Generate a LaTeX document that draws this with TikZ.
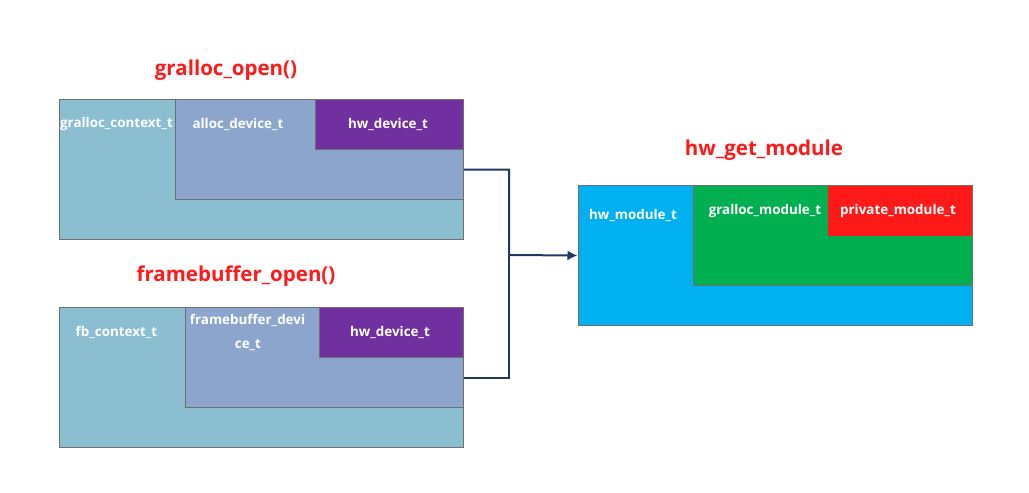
\documentclass[tikz,border=0pt]{standalone}
\usepackage{fontspec}
\setmainfont{Open Sans}
\usetikzlibrary{arrows.meta}
\definecolor{ctxc}{HTML}{8ABED0}
\definecolor{devc}{HTML}{8BA5CC}
\definecolor{hwc}{HTML}{7030A0}
\definecolor{cyanc}{HTML}{00B0F0}
\definecolor{greenc}{HTML}{00B050}
\definecolor{redc}{HTML}{FF1A1A}
\definecolor{bordc}{HTML}{6F6F6F}
\definecolor{connc}{HTML}{1F3864}
\tikzset{
  box/.style={draw=bordc, line width=1pt, rectangle, anchor=north west, inner sep=0pt},
  lbl/.style={text=white, font=\bfseries\fontsize{13.4}{15}\selectfont, inner sep=0pt},
  ttl/.style={text=redc, font=\bfseries\fontsize{20.5}{24}\selectfont, inner sep=0pt},
  conn/.style={draw=connc, line width=2pt},
}
\begin{document}
\begin{tikzpicture}[x=1pt,y=-1pt]
\useasboundingbox (0,0) rectangle (1029,493);
% top group
\node[box, fill=ctxc, minimum width=404pt, minimum height=140pt] (gc) at (59,99) {};
\node[box, fill=devc, minimum width=288pt, minimum height=100pt] (ad) at (175,99) {};
\node[box, fill=hwc, minimum width=148pt, minimum height=50pt] (hw1) at (315,99) {};
\node[lbl] (gcl) at (116.5,124) {gralloc\_context\_t};
\node[lbl] (adl) at (238,124) {alloc\_device\_t};
\node[lbl] (hw1l) at (388,124) {hw\_device\_t};
\node[ttl] (t1) at (226,70) {gralloc\_open()};
% bottom group
\node[box, fill=ctxc, minimum width=404pt, minimum height=140pt] (fc) at (59,307) {};
\node[box, fill=devc, minimum width=278pt, minimum height=100pt] (fd) at (185,307) {};
\node[box, fill=hwc, minimum width=144pt, minimum height=50pt] (hw2) at (319,307) {};
\node[lbl] (fcl) at (116.5,332) {fb\_context\_t};
\node[lbl] (fdl1) at (247.5,320) {framebuffer\_devi};
\node[lbl] (fdl2) at (248,345.5) {ce\_t};
\node[lbl] (hw2l) at (390,332) {hw\_device\_t};
\node[ttl] (t2) at (236,276) {framebuffer\_open()};
% right group
\node[box, fill=cyanc, minimum width=394pt, minimum height=140pt] (hm) at (577.5,185) {};
\node[box, fill=greenc, minimum width=278.5pt, minimum height=100pt] (gm) at (693,185) {};
\node[box, fill=redc, draw=none, minimum width=144.5pt, minimum height=50pt] (pm) at (827,185.5) {};
\node[lbl] (hml) at (633,215) {hw\_module\_t};
\node[lbl] (gml) at (765,211) {gralloc\_module\_t};
\node[lbl] (pml) at (898,211) {private\_module\_t};
\node[ttl] (t3) at (764,150) {hw\_get\_module};
% connectors
\coordinate (j) at (509,255);
\draw[conn, -{Latex[length=10pt,width=10pt]}] (gc.east) -| (j) -- (hm.west);
\draw[conn] (fc.east) -| (j);
\end{tikzpicture}
\end{document}
